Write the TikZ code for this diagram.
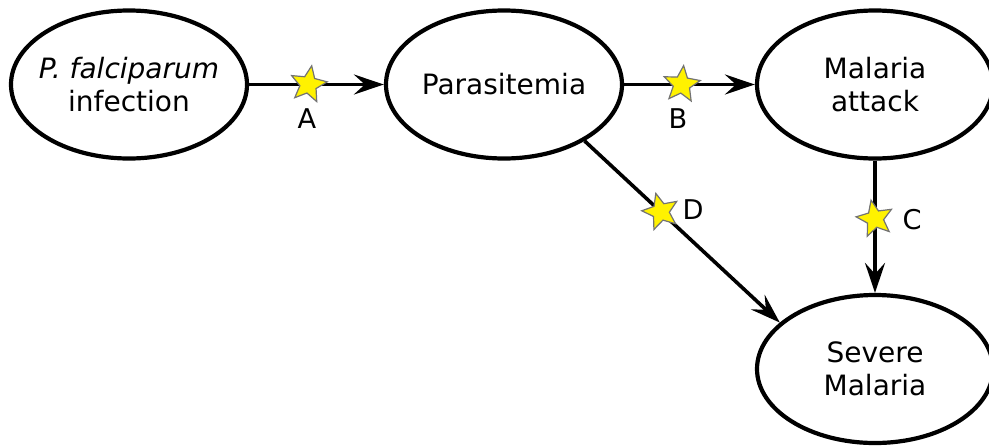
\documentclass[tikz,border=0pt]{standalone}
\usepackage{fontspec}
\setmainfont{DejaVu Sans}
\usetikzlibrary{shapes.geometric,arrows.meta}
\tikzset{
  elli/.style={draw, ellipse, line width=2.1pt, inner sep=0pt, minimum width=118pt, minimum height=74pt},
  txt/.style={align=center, font=\fontsize{14}{16.5}\selectfont, inner sep=0pt},
  conn/.style={line width=1.8pt, -{Stealth[length=15pt,width=10pt,inset=5.5pt]}},
  starmark/.style={star, star points=5, star point ratio=2.2, fill=yellow, draw=black!55, line width=0.6pt, minimum size=19pt, inner sep=0pt},
  lbl/.style={font=\fontsize{13.6}{16}\selectfont, inner sep=0pt}
}
\begin{document}
\begin{tikzpicture}[x=0.5pt,y=-0.5pt]
\useasboundingbox (0,0) rectangle (989,445);
\node[elli] (E1) at (129,84.5) {};
\node[txt] (T1) at (E1) {\itshape P. falciparum\\infection};
\node[elli] (E2) at (504,84.5) {};
\node[txt] (T2) at (E2) {Parasitemia};
\node[elli] (E3) at (875,84.5) {};
\node[txt] (T3) at (E3) {Malaria\\attack};
\node[elli] (E4) at (875,369) {};
\node[txt] (T4) at (E4) {Severe\\Malaria};

\draw[conn] (E1.east) -- node[pos=0.44, starmark, rotate=-10] (SA) {} (E2.west);
\draw[conn] (E2.east) -- node[pos=0.44, starmark, rotate=-6] (SB) {} (E3.west);
\draw[conn] (E3.south) -- node[pos=0.44, starmark, rotate=12] (SC) {} (E4.north);
\draw[conn] (E2.-35) -- node[pos=0.39, starmark, rotate=15] (SD) {} (E4.154);

\node[lbl] (LA) at (307,119) {A};
\node[lbl] (LB) at (678,119) {B};
\node[lbl] (LC) at (912,220) {C};
\node[lbl] (LD) at (693,210) {D};
\end{tikzpicture}
\end{document}
